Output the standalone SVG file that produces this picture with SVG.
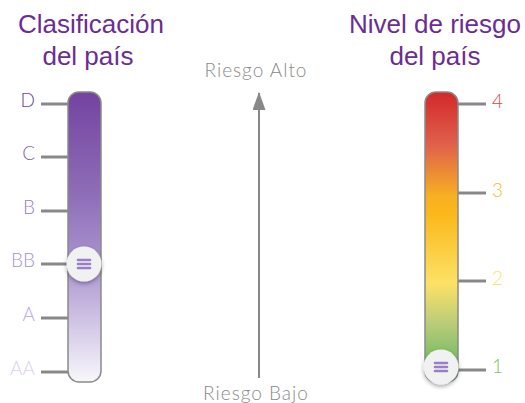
<svg xmlns="http://www.w3.org/2000/svg" width="525" height="403" viewBox="0 0 525 403">
<defs>
<linearGradient id="gLeft" x1="0" y1="0" x2="0" y2="1">
<stop offset="0" stop-color="#7443a0"/>
<stop offset="0.35" stop-color="#8e6db8"/>
<stop offset="0.6" stop-color="#ab95cf"/>
<stop offset="0.8" stop-color="#d2c6e6"/>
<stop offset="1" stop-color="#f8f7fb"/>
</linearGradient>
<linearGradient id="gRight" x1="0" y1="0" x2="0" y2="1">
<stop offset="0" stop-color="#d3282b"/>
<stop offset="0.18" stop-color="#e0604a"/>
<stop offset="0.36" stop-color="#f7b023"/>
<stop offset="0.42" stop-color="#fbb81a"/>
<stop offset="0.66" stop-color="#fde166"/>
<stop offset="0.8" stop-color="#b9cc78"/>
<stop offset="0.92" stop-color="#7cbd64"/>
<stop offset="1" stop-color="#6cb45a"/>
</linearGradient>
<filter id="sh" x="-50%" y="-50%" width="200%" height="200%">
<feDropShadow dx="0" dy="2" stdDeviation="2" flood-color="#000" flood-opacity="0.35"/>
</filter>
<marker id="ah" viewBox="0 0 18 13" refX="17" refY="6.5" markerWidth="18" markerHeight="13" markerUnits="userSpaceOnUse" orient="auto">
<path d="M0,0 L18,6.5 L0,13 Z" fill="#888"/>
</marker>
</defs>
<style>
.title{font-family:"Liberation Sans",Arial,sans-serif;font-size:26px;fill:#6a2d94;text-anchor:middle}
.lbl{font-family:Lato,"Noto Sans",sans-serif;font-size:19px;font-weight:300}
.tick{stroke:#888;stroke-width:3}
.bar{stroke:#8a8a8a;stroke-width:1.5}
.knob{fill:#f0f1f1}
.grip{stroke:#9b7ec8;stroke-width:2.6;stroke-linecap:round}
.axis{font-family:Lato,"Noto Sans",sans-serif;font-size:19px;font-weight:300;letter-spacing:1px;fill:#8a8a8a;text-anchor:middle}
</style>

<g id="title-left">
<text class="title" x="91" y="33">Clasificación</text>
<text class="title" x="88" y="65">del país</text>
</g>
<g id="title-right">
<text class="title" x="435" y="33">Nivel de riesgo</text>
<text class="title" x="435" y="65">del país</text>
</g>

<g id="scale-left">
<line class="tick" x1="41" y1="104" x2="68" y2="104"/>
<line class="tick" x1="41" y1="157" x2="68" y2="157"/>
<line class="tick" x1="41" y1="211" x2="68" y2="211"/>
<line class="tick" x1="41" y1="264" x2="68" y2="264"/>
<line class="tick" x1="41" y1="318" x2="68" y2="318"/>
<line class="tick" x1="41" y1="372" x2="68" y2="372"/>
<rect class="bar" x="68" y="92" width="33" height="290" rx="11" fill="url(#gLeft)"/>
<g text-anchor="end" class="lbl">
<text x="35" y="107" fill="#6f3f9e">D</text>
<text x="35" y="160" fill="#8764b4">C</text>
<text x="35" y="214" fill="#9a80c3">B</text>
<text x="35" y="267" fill="#a892cf">BB</text>
<text x="35" y="321" fill="#bca9dc">A</text>
<text x="35" y="375" fill="#dcd2ee">AA</text>
</g>
</g>
<g id="knob-left">
<circle class="knob" cx="84" cy="264" r="17.5" filter="url(#sh)"/>
<line class="grip" x1="78" y1="260" x2="90" y2="260"/>
<line class="grip" x1="78" y1="264" x2="90" y2="264"/>
<line class="grip" x1="78" y1="268" x2="90" y2="268"/>
</g>

<g id="scale-right">
<line class="tick" x1="458" y1="104" x2="486" y2="104"/>
<line class="tick" x1="458" y1="193" x2="486" y2="193"/>
<line class="tick" x1="458" y1="281" x2="486" y2="281"/>
<line class="tick" x1="458" y1="370" x2="486" y2="370"/>
<rect class="bar" x="425" y="92" width="33" height="290" rx="11" fill="url(#gRight)"/>
<g class="lbl">
<text x="492" y="108" fill="#e24446">4</text>
<text x="492" y="197" fill="#fbb92e">3</text>
<text x="492" y="285" fill="#fde168">2</text>
<text x="492" y="373" fill="#7dc36a">1</text>
</g>
</g>
<g id="knob-right">
<circle class="knob" cx="441" cy="367" r="17.5" filter="url(#sh)"/>
<line class="grip" x1="435" y1="363" x2="447" y2="363"/>
<line class="grip" x1="435" y1="367" x2="447" y2="367"/>
<line class="grip" x1="435" y1="371" x2="447" y2="371"/>
</g>

<g id="connectors">
<line x1="259" y1="378" x2="259" y2="93" stroke="#888" stroke-width="2" marker-end="url(#ah)"/>
</g>
<g id="axis-labels">
<text class="axis" x="256" y="77">Riesgo Alto</text>
<text class="axis" x="256" y="400">Riesgo Bajo</text>
</g>
</svg>
